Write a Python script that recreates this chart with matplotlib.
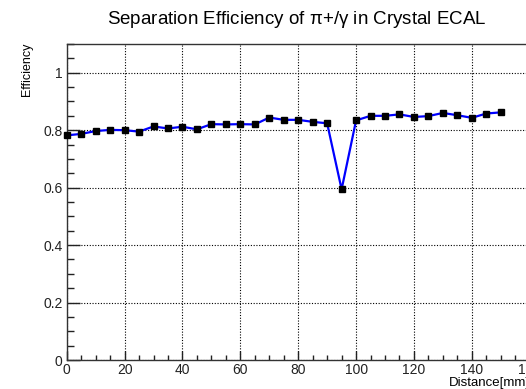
import matplotlib
matplotlib.use('Agg')
import matplotlib.pyplot as plt
from matplotlib.ticker import MultipleLocator

plt.rcParams['font.family'] = ['Liberation Sans', 'DejaVu Sans']

# distance [mm] and efficiency
distance = [0, 5, 10, 15, 20, 25, 30, 35, 40, 45, 50, 55, 60, 65, 70, 75,
            80, 85, 90, 95, 100, 105, 110, 115, 120, 125, 130, 135, 140, 145, 150]
efficiency = [0.782, 0.787, 0.797, 0.801, 0.800, 0.795, 0.813, 0.806, 0.812, 0.803,
              0.821, 0.820, 0.821, 0.820, 0.844, 0.836, 0.836, 0.829, 0.824, 0.594,
              0.834, 0.850, 0.850, 0.855, 0.846, 0.849, 0.860, 0.852, 0.843, 0.858, 0.862]

fig = plt.figure(figsize=(5.26, 3.89), dpi=100)
ax = fig.add_axes([66.7 / 526, 29 / 389, 463 / 526, 316 / 389])

ax.plot(distance, efficiency, color='blue', lw=1.6, marker='s', ms=5,
        mfc='black', mec='black', zorder=3, clip_on=False)

ax.set_xlim(0, 160)
ax.set_ylim(0, 1.1)
ax.xaxis.set_major_locator(MultipleLocator(20))
ax.xaxis.set_minor_locator(MultipleLocator(5))
ax.yaxis.set_major_locator(MultipleLocator(0.2))
ax.yaxis.set_minor_locator(MultipleLocator(0.05))
ax.set_yticks([0, 0.2, 0.4, 0.6, 0.8, 1.0])
ax.set_yticklabels(['0', '0.2', '0.4', '0.6', '0.8', '1'])

ax.tick_params(axis='both', which='both', direction='in', labelsize=10,
               colors='#222222', right=False, top=False)
ax.tick_params(axis='y', which='major', length=9.5, width=1, pad=3)
ax.tick_params(axis='y', which='minor', length=5, width=1)
ax.tick_params(axis='x', which='major', length=6.5, width=1, pad=2)
ax.tick_params(axis='x', which='minor', length=3.5, width=1)

ax.grid(True, which='major', color='black', linestyle=(0, (1, 1.5)), lw=0.8)
for s in ax.spines.values():
    s.set_linewidth(1)
    s.set_color('#333333')

fig.text(297 / 526, 1 - 20 / 389, r'Separation Efficiency of $\mathregular{\pi}$+/$\mathregular{\gamma}$ in Crystal ECAL',
         ha='center', va='center', fontsize=13.5)
fig.text(27 / 526, 1 - 43 / 389, 'Efficiency', rotation=90, ha='center', va='top', fontsize=9)
ax.set_xlabel('Distance[mm]', fontsize=9.5, ha='right', x=1.0, labelpad=0)

fig.savefig('out.png', dpi=100)
